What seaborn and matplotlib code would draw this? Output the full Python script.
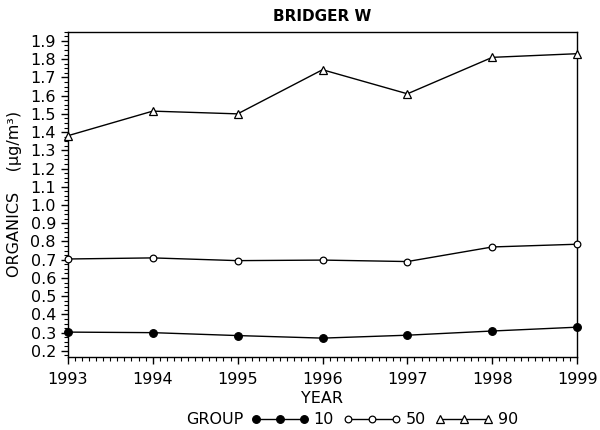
import pandas as pd
import numpy as np
import matplotlib
matplotlib.use('Agg')
import matplotlib.pyplot as plt
from matplotlib.ticker import MultipleLocator
import seaborn as sns

years = [1993, 1994, 1995, 1996, 1997, 1998, 1999]
groups = ['10', '50', '90']
g10 = [0.303, 0.300, 0.284, 0.270, 0.286, 0.309, 0.330]
g50 = [0.704, 0.710, 0.695, 0.698, 0.690, 0.770, 0.785]
g90 = [1.38, 1.515, 1.50, 1.742, 1.61, 1.81, 1.83]

df = pd.DataFrame({
    'YEAR': years * 3,
    'ORGANICS': g10 + g50 + g90,
    'GROUP': [g for g in groups for _ in years],
})

sns.set_style('ticks')
plt.rcParams['font.family'] = ['DejaVu Sans']
plt.rcParams['text.color'] = 'black'
plt.rcParams['axes.labelcolor'] = 'black'
plt.rcParams['xtick.color'] = 'black'
plt.rcParams['ytick.color'] = 'black'

fig = plt.figure(figsize=(6, 4.3), dpi=100)
ax = fig.add_axes([0.113, 0.170, 0.849, 0.756])

# marker style per group: filled circle, open circle, open triangle
mk = {'10': ('o', 'black', 5.5), '50': ('o', 'white', 4.8), '90': ('^', 'white', 5.2)}
for g in groups:
    sub = df[df['GROUP'] == g]
    m, fc, ms = mk[g]
    sns.lineplot(data=sub, x='YEAR', y='ORGANICS', ax=ax, color='black',
                 lw=1, marker=m, markersize=ms, markerfacecolor=fc,
                 markeredgecolor='black', markeredgewidth=0.9, label=g,
                 clip_on=False, zorder=3)

ax.set_xlim(1993, 1999)
ax.set_ylim(0.167, 1.95)
ax.xaxis.set_major_locator(MultipleLocator(1))
ax.xaxis.set_minor_locator(MultipleLocator(1 / 12))
ax.yaxis.set_minor_locator(MultipleLocator(0.025))
ax.set_yticks(np.round(np.arange(0.2, 1.91, 0.1), 1))
ax.set_yticklabels([f'{v:.1f}' for v in np.arange(0.2, 1.91, 0.1)])
ax.tick_params(axis='both', which='major', length=5, width=1, labelsize=11.5)
ax.tick_params(axis='both', which='minor', length=3, width=0.8)
ax.tick_params(axis='x', pad=6)
for s in ax.spines.values():
    s.set_visible(True)
    s.set_color('black')
    s.set_linewidth(1)

ax.set_xlabel('YEAR', fontsize=11.5, labelpad=3)
ax.set_ylabel('ORGANICS    (µg/m³)', fontsize=11.5, labelpad=6)
ax.set_title('BRIDGER W', fontsize=11, fontweight='bold', pad=8)

ax.legend_.remove()
h, l = ax.get_legend_handles_labels()
fig.text(0.310, 0.024, 'GROUP', fontsize=11.5, va='center', ha='left')
fig.legend(h, l, loc='center left', bbox_to_anchor=(0.405, 0.024), ncol=3,
           numpoints=3, frameon=False, fontsize=11.5, handlelength=3.6,
           handletextpad=0.3, columnspacing=0.6, borderpad=0)

fig.savefig('out.png', dpi=100)
